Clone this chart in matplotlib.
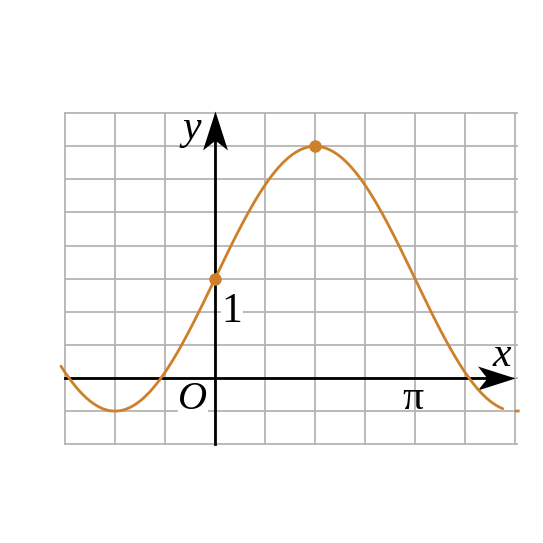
import numpy as np
import matplotlib.pyplot as plt
from matplotlib.path import Path

# y = offset + amplitude * sin(x)
AMPLITUDE = 2.0
OFFSET = 1.5
X_START = -2.42      # where the drawn curve begins (rad)
X_END = 4.52         # where it ends (rad)
marked_x = [0.0, np.pi / 2]

# grid: cells of pi/4 horizontally, 0.5 vertically
grid_x = np.arange(-3, 7) * np.pi / 4
grid_y = np.arange(-2, 9) * 0.5

ORANGE = '#cf7f2a'
GRID = '#b4b4b4'

fig = plt.figure(figsize=(5.43, 5.43), dpi=100)
ax = fig.add_axes([0, 0, 1, 1])
px_x = 50 / (np.pi / 4)
px_y = 66.2
ax.set_xlim(-215 / px_x, (543 - 215) / px_x)
ax.set_ylim(-(543 - 378) / px_y, 378 / px_y)
ax.axis('off')

# grid
for gx in grid_x:
    ax.plot([gx, gx], [grid_y[0], grid_y[-1]], color=GRID, lw=1.3, zorder=1)
for gy in grid_y:
    ax.plot([grid_x[0], grid_x[-1] + 0.03], [gy, gy], color=GRID, lw=1.3, zorder=1)

# axes lines
ax.plot([grid_x[0], grid_x[-1] - 0.2], [0, 0], color='black', lw=2.0, zorder=3)
ax.plot([0, 0], [grid_y[0], grid_y[-1] - 0.2], color='black', lw=2.0, zorder=3)

# stealth arrow heads as custom markers (tip at the marker position)
head_r = Path([(0, 0), (-1, 0.32), (-0.75, 0), (-1, -0.32), (0, 0)],
              [Path.MOVETO, Path.LINETO, Path.LINETO, Path.LINETO, Path.CLOSEPOLY])
head_u = Path([(0, 0), (0.32, -1), (0, -0.75), (-0.32, -1), (0, 0)],
              [Path.MOVETO, Path.LINETO, Path.LINETO, Path.LINETO, Path.CLOSEPOLY])
ax.plot([grid_x[-1]], [0], marker=head_r, markersize=54, color='black',
        markeredgewidth=0, zorder=4)
ax.plot([0], [grid_y[-1] + 0.03], marker=head_u, markersize=56, color='black',
        markeredgewidth=0, zorder=4)

# the curve
xs = np.linspace(X_START, X_END, 400)
ax.plot(xs, OFFSET + AMPLITUDE * np.sin(xs), color=ORANGE, lw=2.0, zorder=5,
        solid_capstyle='round')
xt = np.linspace(3 * np.pi / 2 + 0.02, 3 * np.pi / 2 + 0.05, 5)
ax.plot(xt, OFFSET + AMPLITUDE * np.sin(xt), color=ORANGE, lw=2.0, zorder=5)
mx = np.array(marked_x)
ax.plot(mx, OFFSET + AMPLITUDE * np.sin(mx), 'o', color=ORANGE, markersize=8, zorder=6)

# labels
serif = ['Liberation Serif', 'DejaVu Serif']
ax.text(-0.37, 3.76, 'y', fontsize=30, family=serif, style='italic',
        ha='center', va='center', zorder=7)
ax.text(4.5, 0.33, 'x', fontsize=30, family=serif, style='italic',
        ha='center', va='center', zorder=7)
ax.text(-0.35, -0.33, 'O', fontsize=29, family=serif, style='italic',
        ha='center', va='center', zorder=7,
        bbox=dict(facecolor='white', edgecolor='none', pad=0.3))
ax.text(0.27, 1.0, '1', fontsize=30, family=serif,
        ha='center', va='center', zorder=7,
        bbox=dict(facecolor='white', edgecolor='none', pad=0.3))
ax.text(np.pi - 0.03, -0.31, 'π', fontsize=30, family=serif,
        ha='center', va='center', zorder=7)

fig.savefig('out.png', dpi=100, facecolor='white')
